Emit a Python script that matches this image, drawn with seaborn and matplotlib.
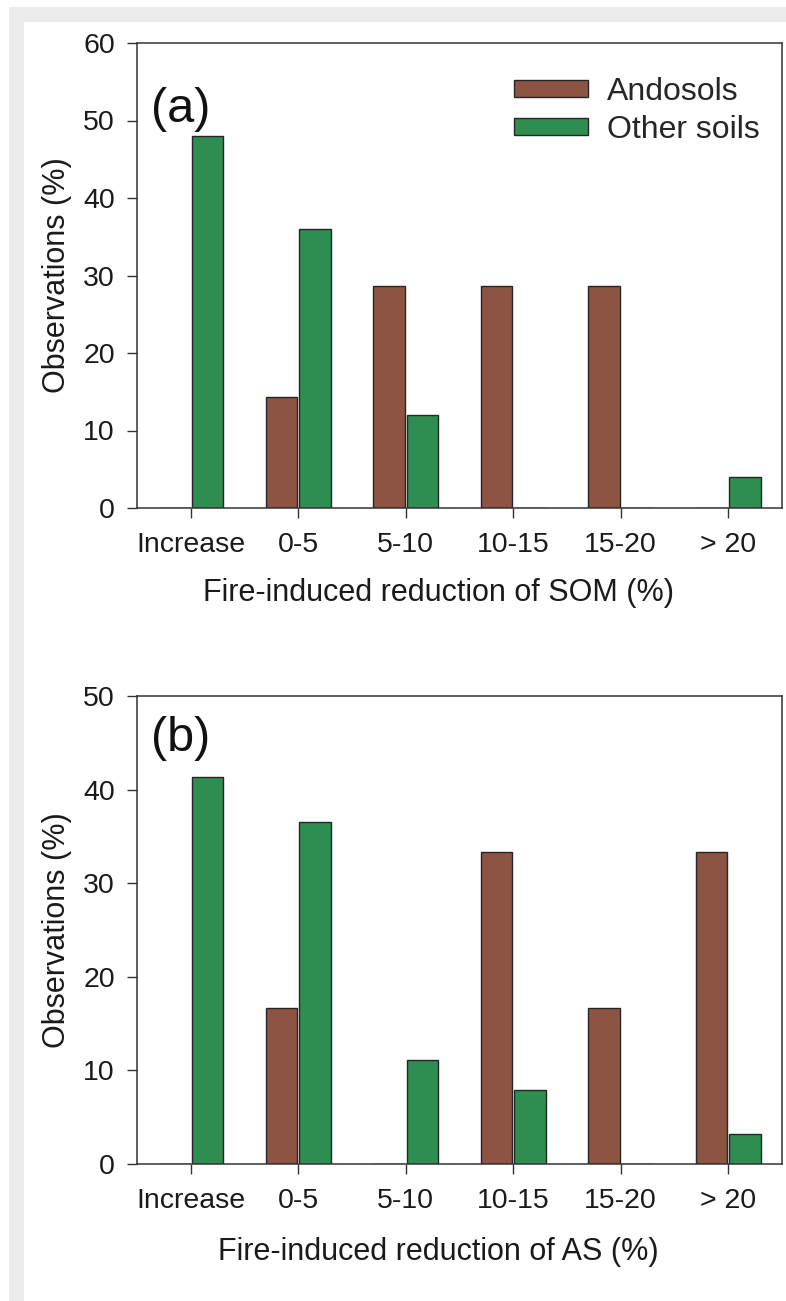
import matplotlib
matplotlib.use("Agg")
import matplotlib.pyplot as plt
from matplotlib.patches import Rectangle
import seaborn as sns
import pandas as pd

# ---- data ----
categories = ["Increase", "0-5", "5-10", "10-15", "15-20", "> 20"]
soil_types = ["Andosols", "Other soils"]
andosols_som = [0, 14.3, 28.6, 28.6, 28.6, 0]
other_som = [48.0, 36.0, 12.0, 0, 0, 4.0]
andosols_as = [0, 16.7, 0, 33.3, 16.7, 33.3]
other_as = [41.3, 36.5, 11.1, 7.9, 0, 3.2]
yticks_a = [0, 10, 20, 30, 40, 50, 60]
yticks_b = [0, 10, 20, 30, 40, 50]

colors = {"Andosols": "#8D5443", "Other soils": "#2E8D50"}


def long_df(a, o):
    return pd.DataFrame({
        "category": categories * 2,
        "soil": [soil_types[0]] * len(categories) + [soil_types[1]] * len(categories),
        "value": list(a) + list(o),
    })


sns.set_style("ticks")
plt.rcParams["font.family"] = ["Liberation Sans", "DejaVu Sans"]

W, H = 786, 1301
fig = plt.figure(figsize=(W / 100, H / 100), dpi=100)

# light grey frame strips (page background)
fig.patches.append(Rectangle((9 / W, 0), 15 / W, 1 - 7 / H, transform=fig.transFigure,
                             facecolor="#EBEBEB", edgecolor="none", zorder=0))
fig.patches.append(Rectangle((9 / W, 1 - 22 / H), 1 - 9 / W, 15 / H, transform=fig.transFigure,
                             facecolor="#EBEBEB", edgecolor="none", zorder=0))

left, right = 137 / W, 782 / W
ax_a = fig.add_axes([left, 1 - 508 / H, right - left, (508 - 43) / H])
ax_b = fig.add_axes([left, 1 - 1164 / H, right - left, (1164 - 696) / H])

panels = [
    (ax_a, long_df(andosols_som, other_som), yticks_a, "Fire-induced reduction of SOM (%)", "(a)", True,
     -70 / 465, 0.905),
    (ax_b, long_df(andosols_as, other_as), yticks_b, "Fire-induced reduction of AS (%)", "(b)", False,
     -73 / 468, 0.957),
]

tick_fs = 20.5
label_fs = 22

for ax, df, yt, xlabel, letter, show_leg, xlab_y, letter_y in panels:
    sns.barplot(data=df, x="category", y="value", hue="soil", order=categories,
                hue_order=soil_types, palette=colors, saturation=1, width=0.62, gap=0.06,
                edgecolor="#262626", linewidth=1.0, ax=ax, legend=show_leg, errorbar=None)
    ax.set_xlim(-0.5, 5.5)
    ax.set_ylim(yt[0], yt[-1])
    ax.set_yticks(yt)
    ax.set_xlabel(xlabel, fontsize=label_fs, color="#1a1a1a")
    ax.xaxis.set_label_coords(0.467, xlab_y, transform=ax.transAxes)
    ax.xaxis.label.set_va("top")
    ax.set_ylabel("Observations (%)", fontsize=label_fs, labelpad=8, color="#1a1a1a")
    ax.tick_params(axis="both", direction="out", length=7, width=1, color="#333333",
                   labelsize=tick_fs, labelcolor="#1a1a1a")
    ax.tick_params(axis="x", pad=10)
    ax.tick_params(axis="y", pad=9)
    for s in ax.spines.values():
        s.set_visible(True)
        s.set_color("#333333")
        s.set_linewidth(1.1)
    ax.text(0.022, letter_y, letter, transform=ax.transAxes, fontsize=35, va="top", ha="left",
            color="#111111")
    if show_leg:
        h, l = ax.get_legend_handles_labels()
        ax.legend(h, l, loc="upper right", bbox_to_anchor=(1.0, 0.975), frameon=False,
                  fontsize=23, handlelength=2.3, handleheight=0.42, handletextpad=0.6,
                  labelspacing=0.25, borderaxespad=0.3)

fig.savefig("out.png", dpi=100)
